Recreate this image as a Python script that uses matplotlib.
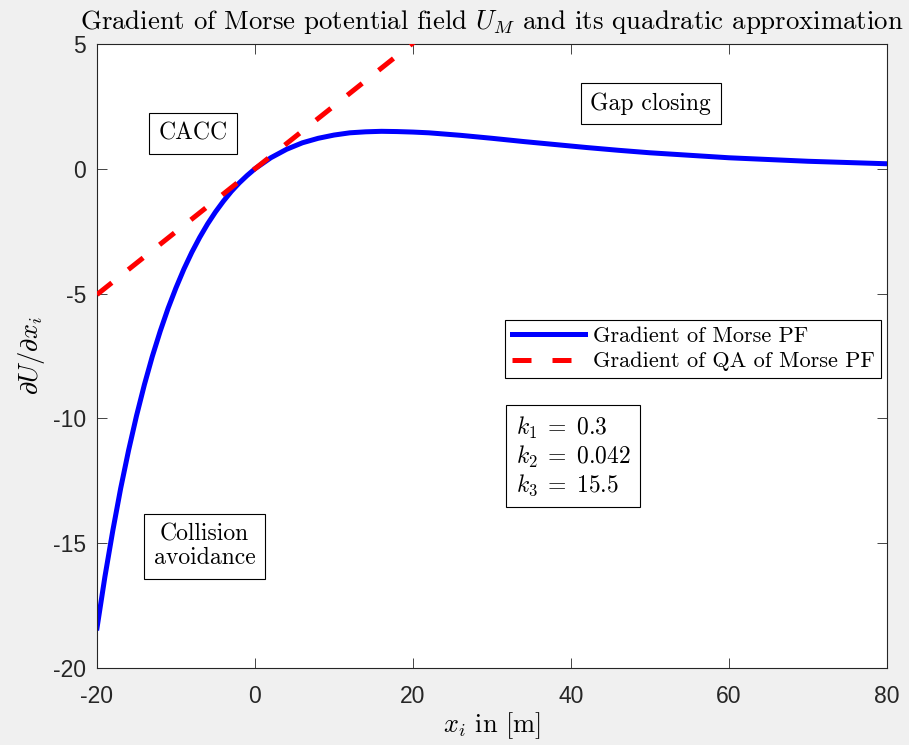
import numpy as np
import matplotlib.pyplot as plt

plt.rcParams['mathtext.fontset'] = 'cm'
plt.rcParams['axes.unicode_minus'] = False
plt.rcParams['font.family'] = ['Liberation Sans', 'DejaVu Sans']

# gradient of the Morse potential field, sampled along x_i
x_morse = [-20, -19, -18, -17, -16, -15, -14, -13, -12, -11, -10, -9, -8, -7, -6,
           -5, -4, -3, -2, -1, 0, 2, 4, 6, 8, 10, 12, 14, 16, 18, 20, 22, 24, 26,
           28, 30, 34, 38, 42, 46, 50, 55, 60, 65, 70, 75, 80]
grad_morse = [-18.40, -16.35, -14.50, -12.80, -11.28, -9.90, -8.65, -7.52, -6.51,
              -5.59, -4.77, -4.02, -3.35, -2.75, -2.21, -1.73, -1.30, -0.91, -0.57,
              -0.27, 0.0, 0.44, 0.78, 1.04, 1.22, 1.35, 1.44, 1.48, 1.50, 1.49, 1.47,
              1.44, 1.39, 1.34, 1.28, 1.22, 1.09, 0.97, 0.85, 0.74, 0.64, 0.54, 0.44,
              0.37, 0.30, 0.25, 0.20]

# gradient of the quadratic approximation (a straight line)
x_qa = [-20, 0, 20, 40]
grad_qa = [-5.04, 0.0, 5.04, 10.08]

labels = ['Gradient of Morse PF', 'Gradient of QA of Morse PF']
params = (r'$k_1\;=\;0.3$' + '\n' + r'$k_2\;=\;0.042$' + '\n' + r'$k_3\;=\;15.5$')

serif = 'cmr10'
frame = '#262626'

fig = plt.figure(figsize=(9.09, 7.45), dpi=100, facecolor='#f0f0f0')
ax = fig.add_axes([0.1067, 0.1034, 0.8691, 0.8376])

ax.plot(x_morse, grad_morse, color='#0000ff', lw=3.6, label=labels[0], zorder=2)
ax.plot(x_qa, grad_qa, color='#ff0000', lw=3.6, dashes=(3.8, 4.2),
        label=labels[1], zorder=3)

ax.set_xlim(-20, 80)
ax.set_ylim(-20, 5)
ax.set_xticks([-20, 0, 20, 40, 60, 80])
ax.set_yticks([-20, -15, -10, -5, 0, 5])

for s in ax.spines.values():
    s.set_color(frame)
    s.set_linewidth(0.8)
ax.tick_params(direction='in', length=7, width=0.6, color=frame,
               labelcolor=frame, labelsize=16.5, top=True, right=True)
ax.tick_params(axis='x', pad=12)
ax.tick_params(axis='y', pad=8)

ax.set_title(r'Gradient of Morse potential field $U_M$ and its quadratic approximation',
             fontsize=19.3, family=serif, pad=11)
ax.set_xlabel(r'$x_i$ in [m]', fontsize=19, family=serif, labelpad=2)
ax.set_ylabel(r'$\partial U/\partial x_i$', fontsize=19, labelpad=4)

box = dict(boxstyle='square,pad=0.4', fc='white', ec='black', lw=0.8)
ax.text(-7.8, 1.4, 'CACC', fontsize=17, family=serif, ha='center', va='center', bbox=box)
ax.text(50.1, 2.62, 'Gap closing', fontsize=17, family=serif, ha='center', va='center', bbox=box)
ax.text(-6.4, -15.12, 'Collision\navoidance', fontsize=17, family=serif,
        ha='center', va='center', linespacing=1.1, bbox=box)
ax.text(33.0, -11.52, params, fontsize=17, ha='left', va='center',
        linespacing=1.15, bbox=box)

leg = ax.legend(loc='upper left', bbox_to_anchor=(0.5165, 0.5577), borderaxespad=0,
                prop={'family': serif, 'size': 16}, handlelength=3.3,
                fancybox=False, framealpha=1, edgecolor='black',
                borderpad=0.3, labelspacing=0.25, handletextpad=0.35)
leg.get_frame().set_linewidth(0.8)

fig.savefig('out.png', dpi=100, facecolor=fig.get_facecolor())
